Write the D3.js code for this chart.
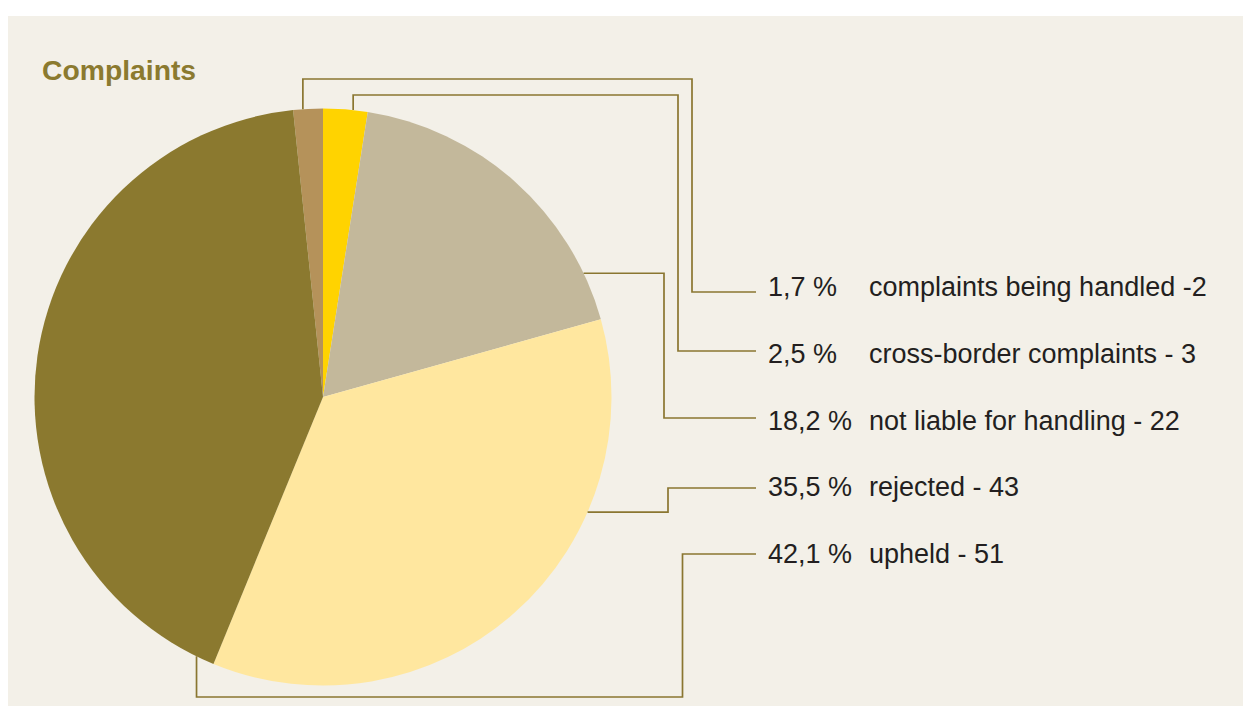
<!DOCTYPE html>
<html>
<head>
<meta charset="utf-8">
<script src="https://cdn.jsdelivr.net/npm/d3@7"></script>
<style>
  html, body { margin: 0; padding: 0; background: #ffffff; }
  svg { display: block; }
</style>
</head>
<body>
<svg id="chart" width="1243" height="706"></svg>
<script>
// Complaints by outcome (counts); shares are derived from the counts.
const categories = [
  "complaints being handled",
  "cross-border complaints",
  "not liable for handling",
  "rejected",
  "upheld"
];
const counts = [2, 3, 22, 43, 51];
const labelTexts = [
  "complaints being handled -2",
  "cross-border complaints - 3",
  "not liable for handling - 22",
  "rejected - 43",
  "upheld - 51"
];
const sliceColors = ["#b5925a", "#ffd300", "#c3b89b", "#ffe79f", "#8b792f"];

const W = 1243, H = 706;
const svg = d3.select("#chart");

// panel background
svg.append("rect")
  .attr("x", 8).attr("y", 16)
  .attr("width", W - 8).attr("height", H - 16)
  .attr("fill", "#f3f0e8");

// title
svg.append("text")
  .attr("x", 42).attr("y", 80)
  .attr("font-family", "'Liberation Sans', Arial, sans-serif")
  .attr("font-weight", "bold")
  .attr("font-size", 28.3)
  .attr("fill", "#8b7a2f")
  .text("Complaints");

const total = d3.sum(counts);
const cx = 323, cy = 397, R = 288.5;

const data = categories.map((c, i) => ({
  category: c, count: counts[i], label: labelTexts[i], color: sliceColors[i]
}));

// first slice ends at 12 o'clock, the rest run clockwise from there
const start = -(counts[0] / total) * 2 * Math.PI;
const pie = d3.pie().value(d => d.count).sort(null)
  .startAngle(start).endAngle(start + 2 * Math.PI);
const arcs = pie(data);
const arc = d3.arc().innerRadius(0).outerRadius(R);

const g = svg.append("g").attr("transform", `translate(${cx},${cy})`);
g.selectAll("path.slice")
  .data(arcs)
  .join("path")
  .attr("class", "slice")
  .attr("d", arc)
  .attr("fill", d => d.data.color);

// leader routing: anchor angle on the rim (degrees clockwise from top),
// optional vertical elbow level, the column where the leader turns, and row level
const leaderX = 756;
const routes = [
  { angle: 356,   elbowY: 79,   colX: 692,   rowY: 292 },
  { angle: 6,     elbowY: 95,   colX: 678,   rowY: 351 },
  { angle: 64.6,  elbowY: null, colX: 664,   rowY: 418 },
  { angle: 113.5, elbowY: null, colX: 668,   rowY: 488 },
  { angle: 206,   elbowY: 697,  colX: 682.5, rowY: 554 }
];

const line = d3.line();
routes.forEach((r, i) => {
  const a = r.angle * Math.PI / 180;
  const p0 = [cx + R * Math.sin(a), cy - R * Math.cos(a)];
  let pts;
  if (r.elbowY !== null) {
    pts = [p0, [p0[0], r.elbowY], [r.colX, r.elbowY], [r.colX, r.rowY], [leaderX, r.rowY]];
  } else {
    pts = [p0, [r.colX, p0[1]], [r.colX, r.rowY], [leaderX, r.rowY]];
  }
  svg.append("path")
    .attr("d", line(pts))
    .attr("fill", "none")
    .attr("stroke", "#8a7630")
    .attr("stroke-width", 1.7);
});

// label rows
const fmt = v => (v / total * 100).toFixed(1).replace(".", ",") + " %";
const rowBase = d3.scaleLinear().domain([0, 4]).range([296, 563]);
const labelFont = "'Liberation Sans', Arial, sans-serif";

const rows = svg.append("g")
  .attr("font-family", labelFont)
  .attr("font-size", 27)
  .attr("fill", "#231f20");

data.forEach((d, i) => {
  rows.append("text")
    .attr("x", 768).attr("y", rowBase(i))
    .text(fmt(d.count));
  rows.append("text")
    .attr("x", 869).attr("y", rowBase(i))
    .text(d.label);
});
</script>
</body>
</html>
